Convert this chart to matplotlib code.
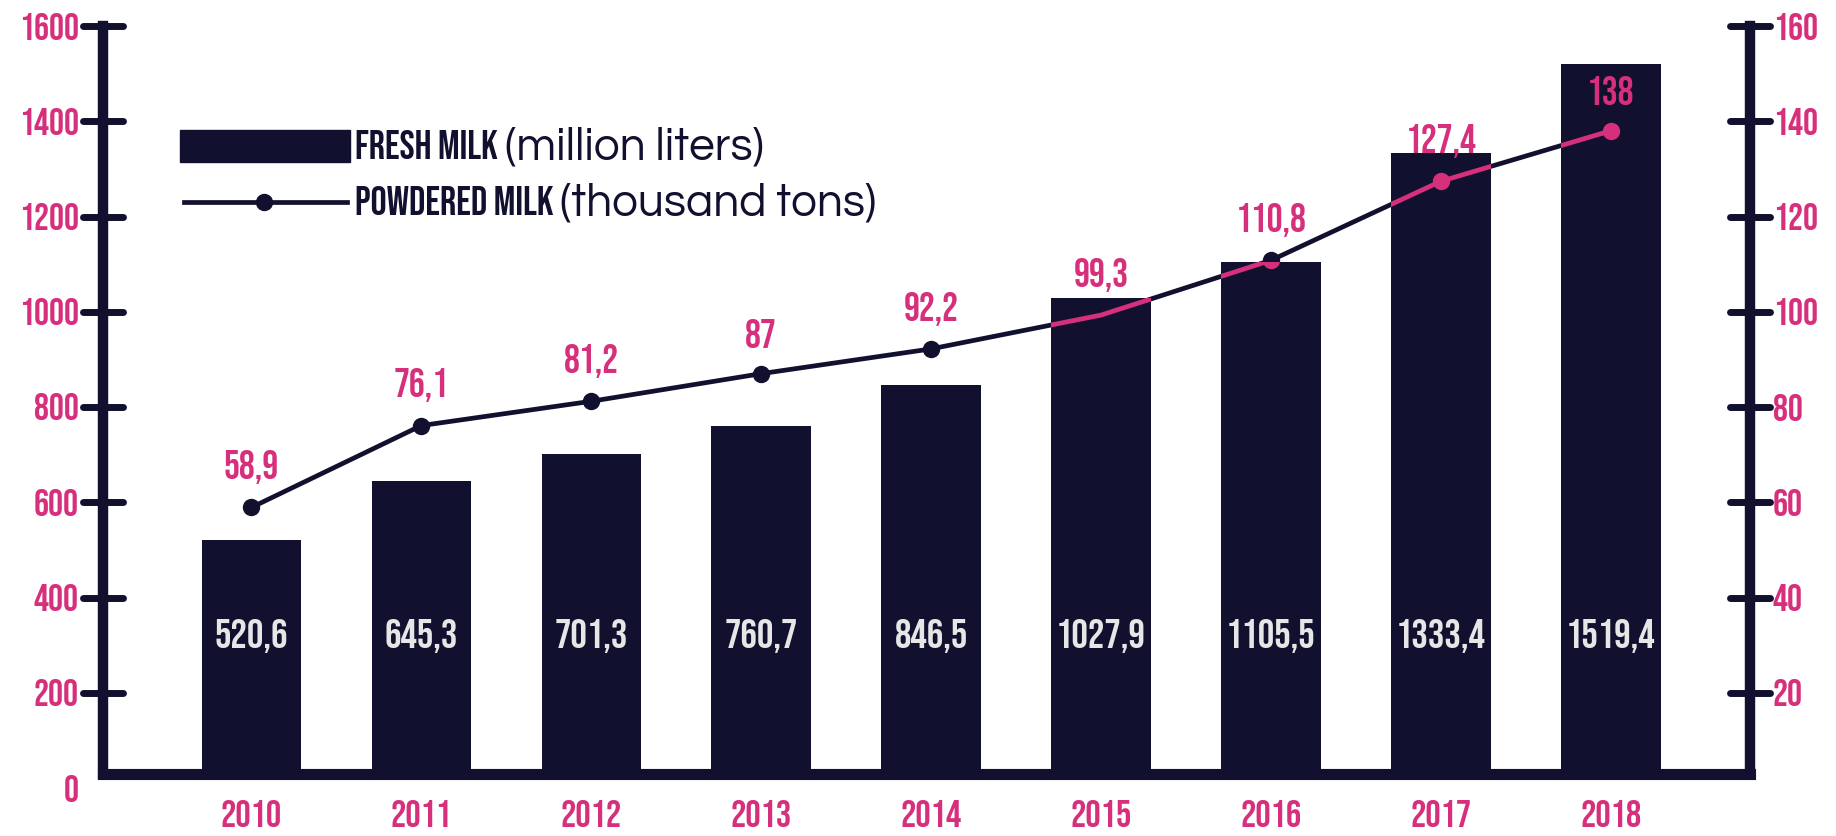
import matplotlib
matplotlib.use('Agg')
import numpy as np
import matplotlib.pyplot as plt
from matplotlib.markers import MarkerStyle
from matplotlib.patches import Rectangle
from matplotlib.lines import Line2D
from matplotlib.transforms import Bbox, TransformedBbox

years = ['2010', '2011', '2012', '2013', '2014', '2015', '2016', '2017', '2018']
fresh = [520.6, 645.3, 701.3, 760.7, 846.5, 1027.9, 1105.5, 1333.4, 1519.4]
powder = [58.9, 76.1, 81.2, 87, 92.2, 99.3, 110.8, 127.4, 138]
left_ticks = [0, 200, 400, 600, 800, 1000, 1200, 1400, 1600]
right_ticks = [20, 40, 60, 80, 100, 120, 140, 160]

NAVY = '#11112f'
PINK = '#d62f7b'
LIGHT = '#e6e6e6'
COND = ['Bebas Neue', 'DejaVu Sans']
ROUND = ['Questrial', 'DejaVu Sans']

plt.rcParams['font.family'] = COND
plt.rcParams['font.weight'] = 'normal'


def fmt(v):
    return f'{v:g}'.replace('.', ',')


W, H = 1836, 836
fig = plt.figure(figsize=(W / 100, H / 100), dpi=100)
ax = fig.add_axes([103 / W, 48 / H, (1750 - 103) / W, (788 - 26) / H])
x = np.arange(len(years))

BASE = 30  # where the bottom axis line sits
bars = ax.bar(x, fresh, width=0.585, color=NAVY, zorder=1)
ax.set_xlim(-0.873, 8.819)
ax.set_ylim(0, 1600)
clip = TransformedBbox(Bbox([[-1, BASE], [10, 1700]]), ax.transData)
for b in bars:
    b.set_clip_box(clip)

ax2 = ax.twinx()
ax2.set_ylim(0, 160)

# spines
for s in ['top', 'right']:
    ax.spines[s].set_visible(False)
for s in ['top', 'bottom', 'left']:
    ax2.spines[s].set_visible(False)
ax.spines['left'].set_linewidth(7.5)
ax.spines['left'].set_color(NAVY)
ax.spines['left'].set_bounds(BASE, 1600)
ax.spines['bottom'].set_linewidth(8)
ax.spines['bottom'].set_color(NAVY)
ax.spines['bottom'].set_position(('data', BASE))
ax2.spines['right'].set_linewidth(7.5)
ax2.spines['right'].set_color(NAVY)
ax2.spines['right'].set_bounds(BASE / 10, 160)
for sp in [ax.spines['left'], ax.spines['bottom'], ax2.spines['right']]:
    sp.set_capstyle('projecting')

ax.set_yticks(left_ticks)
ax.tick_params(axis='y', direction='inout', length=29, width=5, color=NAVY,
               labelcolor=PINK, labelsize=27, pad=3)
ax.set_xticks(x, years)
ax.tick_params(axis='x', length=0, pad=19, labelcolor=PINK, labelsize=27.5)
ax2.set_yticks(right_ticks)
ax2.tick_params(axis='y', direction='inout', length=29, width=5, color=NAVY,
                labelcolor=PINK, labelsize=27, pad=2)

# line: dark, pink where it runs inside a bar
marks = [i for i in range(len(years)) if years[i] != '2015']
ax2.plot(x, powder, color=NAVY, lw=3.4, marker='o', ms=11.5, markevery=marks, zorder=3)
for b in bars:
    ln, = ax2.plot(x, powder, color=PINK, lw=3.4, marker='o', ms=11.5,
                   markevery=marks, zorder=4)
    ln.set_clip_path(b)

for xi, v in zip(x, powder):
    ax2.annotate(fmt(v), (xi, v), xytext=(0, 29), textcoords='offset points',
                 ha='center', va='center', color=PINK, fontsize=28.5)
for xi, v in zip(x, fresh):
    ax.text(xi, 320, fmt(v), ha='center', va='center', color=LIGHT, fontsize=29.5)

# legend drawn by hand
fig.patches.append(Rectangle((180 / W, 1 - 162 / H), 170 / W, 32 / H,
                             transform=fig.transFigure, color=NAVY))
fig.add_artist(Line2D([184 / W, 347 / W], [1 - 202 / H] * 2, color=NAVY, lw=3.4))
fig.add_artist(Line2D([264 / W], [1 - 202 / H], color=NAVY, marker='o', ms=11.5))
t1 = fig.text(355 / W, 1 - 159 / H, 'FRESH MILK', va='baseline', color=NAVY, fontsize=29)
t2 = fig.text(355 / W, 1 - 215 / H, 'POWDERED MILK', va='baseline', color=NAVY, fontsize=29)
fig.canvas.draw()
r = fig.canvas.get_renderer()
for t, s in [(t1, '(million liters)'), (t2, '(thousand tons)')]:
    bb = t.get_window_extent(r)
    fig.text((bb.x1 + 7) / W, t.get_position()[1], s, va='baseline', color=NAVY,
             fontsize=33, family=ROUND)

# rounded tick ends, no tick at 0
for a in [ax, ax2]:
    for tk in a.yaxis.get_major_ticks():
        tk.tick1line.set_marker(MarkerStyle('_', capstyle='round'))
        tk.tick2line.set_marker(MarkerStyle('_', capstyle='round'))
ax.yaxis.get_major_ticks()[0].tick1line.set_visible(False)

fig.savefig('out.png', dpi=100, facecolor='white')
